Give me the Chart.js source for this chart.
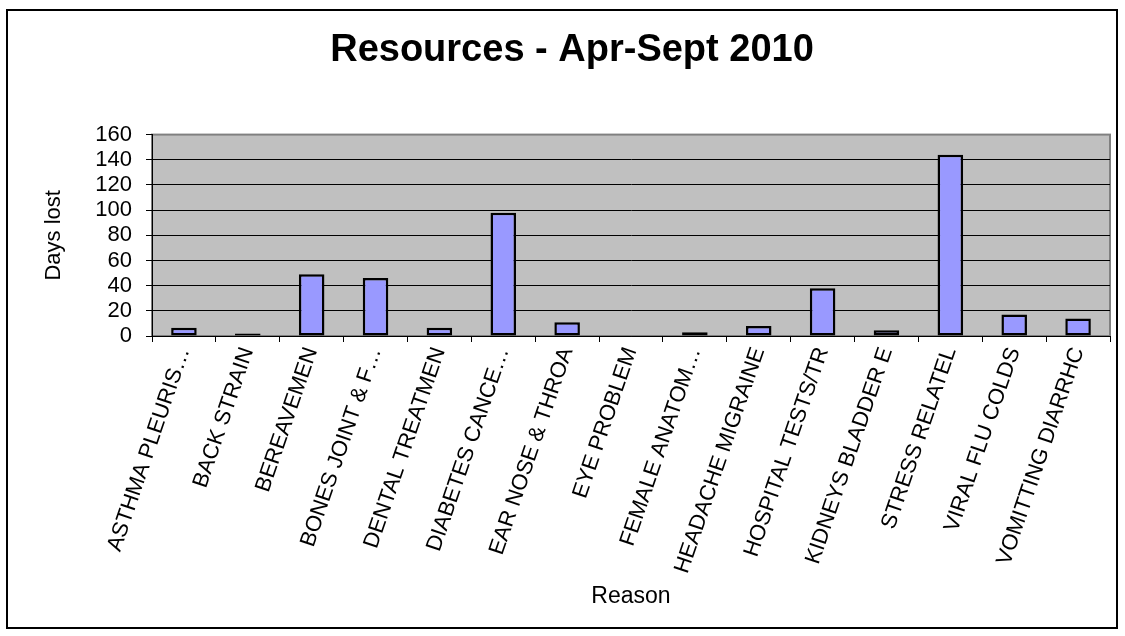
<!DOCTYPE html>
<html>
<head>
<meta charset="utf-8">
<script src="https://cdn.jsdelivr.net/npm/chart.js@4"></script>
<style>
  html, body { margin: 0; padding: 0; background: #fff; }
  #wrap { position: relative; width: 1125px; height: 636px; }
  #frame { position: absolute; left: 6px; top: 9px; width: 1108px; height: 616px; border: 2px solid #000; }
  #chart { position: absolute; left: 0; top: 0; }
</style>
</head>
<body>
<div id="wrap">
  <div id="frame"></div>
  <canvas id="chart" width="1125" height="636"></canvas>
</div>
<script>
// days lost per absence reason, Apr-Sept 2010
const reasons = [
  "ASTHMA PLEURIS…", "BACK STRAIN", "BEREAVEMEN", "BONES JOINT & F…",
  "DENTAL TREATMEN", "DIABETES CANCE…", "EAR NOSE & THROA", "EYE PROBLEM",
  "FEMALE ANATOM…", "HEADACHE MIGRAINE", "HOSPITAL TESTS/TR", "KIDNEYS BLADDER E",
  "STRESS RELATEL", "VIRAL FLU COLDS", "VOMITTING DIARRHC"
];
const daysLost = [6.5, 2, 49, 46, 6.5, 98, 11, 0, 3, 8, 38, 4.5, 144, 17, 14];
const yTicks = [0, 20, 40, 60, 80, 100, 120, 140, 160];

const FONT = "'Liberation Sans', Arial, sans-serif";

// grey plot background with a thin darker outline
const plotBg = {
  id: "plotBg",
  beforeDraw(chart) {
    const {ctx, chartArea: a} = chart;
    ctx.save();
    ctx.fillStyle = "#c0c0c0";
    ctx.fillRect(a.left, a.top, a.right - a.left, a.bottom - a.top);
    ctx.strokeStyle = "#808080";
    ctx.lineWidth = 2;
    ctx.strokeRect(a.left, a.top, a.right - a.left, a.bottom - a.top);
    ctx.restore();
  }
};

new Chart(document.getElementById("chart"), {
  type: "bar",
  data: {
    labels: reasons,
    datasets: [{
      data: daysLost,
      backgroundColor: "#9999ff",
      borderColor: "#000",
      borderWidth: 2.5,
      borderSkipped: false,
      barPercentage: 0.4,
      categoryPercentage: 1
    }]
  },
  options: {
    responsive: false,
    animation: false,
    layout: { padding: { left: 34, right: 15, top: 0, bottom: 0 } },
    plugins: {
      legend: { display: false },
      tooltip: { enabled: false },
      title: {
        display: true,
        text: "Resources - Apr-Sept 2010",
        color: "#000",
        font: { family: FONT, size: 38, weight: "bold" },
        padding: { top: 28, bottom: 61 }
      }
    },
    scales: {
      x: {
        afterFit(s) { s.height = 300; },
        border: { display: true, color: "#000", width: 1 },
        grid: { drawOnChartArea: false, drawTicks: true, tickLength: 6, tickColor: "#000", offset: true },
        ticks: {
          autoSkip: false, minRotation: 71, maxRotation: 71,
          color: "#000", padding: 2,
          font: { family: FONT, size: 22 }
        },
        title: {
          display: true, text: "Reason", color: "#000",
          font: { family: FONT, size: 23 },
          padding: { top: 0, bottom: 26 }
        }
      },
      y: {
        min: 0, max: 160,
        afterFit(s) { s.width = 118; },
        afterBuildTicks(s) { s.ticks = yTicks.map(v => ({ value: v })); },
        border: { display: true, color: "#000", width: 1 },
        grid: {
          color: c => c.tick && c.tick.value === 160 ? "#808080" : "#000",
          lineWidth: 1, tickLength: 6, tickColor: "#000"
        },
        ticks: { autoSkip: false, color: "#000", padding: 14, font: { family: FONT, size: 22 } },
        title: {
          display: true, text: "Days lost", color: "#000",
          font: { family: FONT, size: 22 },
          padding: { top: 7, bottom: 0 }
        }
      }
    }
  },
  plugins: [plotBg]
});
</script>
</body>
</html>
